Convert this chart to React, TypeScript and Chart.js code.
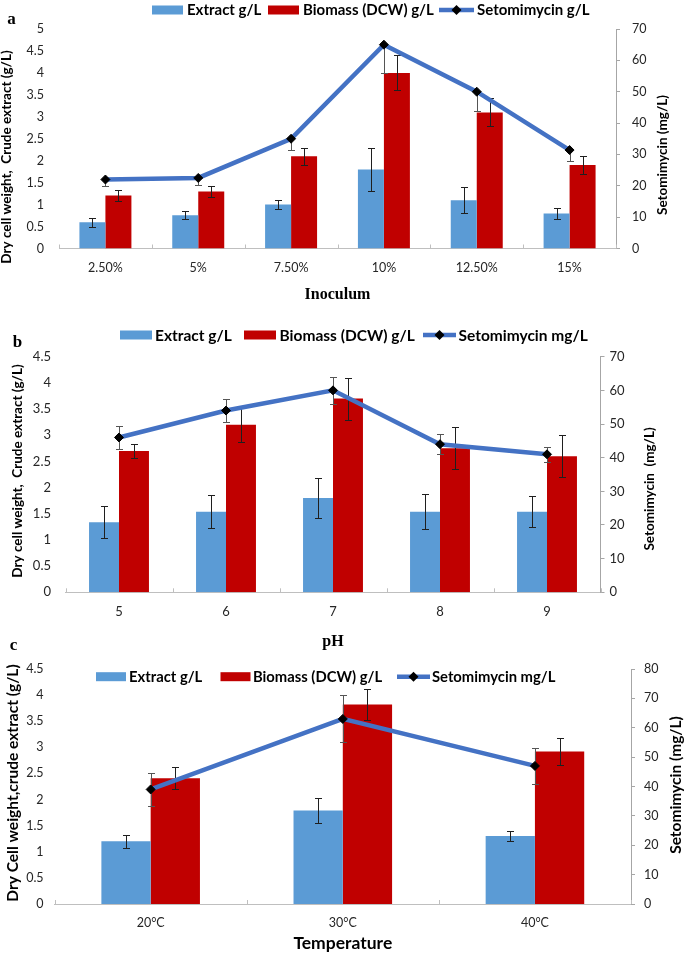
import React, { useEffect, useRef } from 'react';
import { Chart, registerables } from 'chart.js';
Chart.register(...registerables);

// ---------- Panel a : Inoculum ----------
const inoculumLabels = ['2.50%', '5%', '7.50%', '10%', '12.50%', '15%'];
const inoculumExtract = [0.6, 0.76, 1.0, 1.8, 1.1, 0.8];
const inoculumExtractErr = [0.1, 0.09, 0.11, 0.5, 0.3, 0.13];
const inoculumBiomass = [1.21, 1.3, 2.1, 4.0, 3.1, 1.9];
const inoculumBiomassErr = [0.12, 0.13, 0.2, 0.4, 0.32, 0.2];
const inoculumSeto = [22, 22.5, 35, 65, 50, 31.4];
const inoculumSetoErr = [2.2, 2.4, 3.5, 9, 6, 3.6];

// ---------- Panel b : pH ----------
const phLabels = ['5', '6', '7', '8', '9'];
const phExtract = [1.34, 1.54, 1.8, 1.54, 1.54];
const phExtractErr = [0.3, 0.31, 0.39, 0.34, 0.29];
const phBiomass = [2.7, 3.2, 3.7, 2.75, 2.6];
const phBiomassErr = [0.13, 0.33, 0.4, 0.4, 0.4];
const phSeto = [46, 54, 60, 44, 41];
const phSetoErr = [3.3, 3.5, 4, 3, 2.3];

// ---------- Panel c : Temperature ----------
const tempLabels = ['20°C', '30°C', '40°C'];
const tempExtract = [1.2, 1.79, 1.3];
const tempExtractErr = [0.12, 0.24, 0.1];
const tempBiomass = [2.41, 3.82, 2.92];
const tempBiomassErr = [0.21, 0.3, 0.25];
const tempSeto = [39, 63, 47];
const tempSetoErr = [5.5, 8, 6];

const SANS = 'Lato, "Open Sans", sans-serif';
const SERIF = '"Liberation Serif", "Times New Roman", serif';
const BLUE = '#5B9BD5';
const RED = '#C00000';
const LINE = '#4472C4';

const PANELS: any[] = [
  {
    top: 0, height: 318,
    labels: inoculumLabels, extract: inoculumExtract, extractErr: inoculumExtractErr,
    biomass: inoculumBiomass, biomassErr: inoculumBiomassErr, seto: inoculumSeto, setoErr: inoculumSetoErr,
    setoLabel: 'Setomimycin g/L', setoMinusOnly: true,
    yMax: 5, y1Max: 70, cp: 0.56,
    chartTop: 29, chartBottom: 248.5, chartLeft: 59, chartRight: 616, rightAxisW: 40,
    tickSize: 12.5, yPad: 15, y1Pad: 12, xPad: 12,
    xTitle: 'Inoculum', xTitleFont: { family: SERIF, size: 16, weight: 'bold' }, xTitleCenter: 295,
    yTitle: 'Dry cell weight,  Crude extract (g/L)', yTitleX: 7, yTitleY: 157,
    y1Title: 'Setomimycin (mg/L)', y1TitleX: 663, y1TitleY: 155, titleSize: 13.5,
    letter: 'a', letterX: 11.5, letterY: 20,
    legendY: 10, legendSize: 15,
    legend: [{ box: 152, w: 31, h: 9, text: 187 }, { box: 268, w: 31, h: 9, text: 303 }, { line: [439, 474], text: 477 }],
  },
  {
    top: 318, height: 334,
    labels: phLabels, extract: phExtract, extractErr: phExtractErr,
    biomass: phBiomass, biomassErr: phBiomassErr, seto: phSeto, setoErr: phSetoErr,
    setoLabel: 'Setomimycin mg/L', setoMinusOnly: false,
    yMax: 4.5, y1Max: 70, cp: 0.56,
    chartTop: 38.7, chartBottom: 274.3, chartLeft: 65.5, chartRight: 600.5, rightAxisW: 40,
    tickSize: 13, yPad: 14.5, y1Pad: 5, xPad: 12,
    xTitle: 'pH', xTitleFont: { family: SERIF, size: 16, weight: 'bold' }, xTitleCenter: 324,
    yTitle: 'Dry cell weight,  Crude extract (g/L)', yTitleX: 17.5, yTitleY: 153,
    y1Title: 'Setomimycin  (mg/L)', y1TitleX: 650, y1TitleY: 171, titleSize: 13.5,
    letter: 'b', letterX: 17.5, letterY: 25,
    legendY: 17, legendSize: 15.5,
    legend: [{ box: 120, w: 32, h: 9, text: 155 }, { box: 244, w: 32, h: 9, text: 279.5 }, { line: [423, 456], text: 458.5 }],
  },
  {
    top: 640, height: 314,
    labels: tempLabels, extract: tempExtract, extractErr: tempExtractErr,
    biomass: tempBiomass, biomassErr: tempBiomassErr, seto: tempSeto, setoErr: tempSetoErr,
    setoLabel: 'Setomimycin mg/L', setoMinusOnly: false,
    yMax: 4.5, y1Max: 80, cp: 0.513,
    chartTop: 29, chartBottom: 264, chartLeft: 54.6, chartRight: 631, rightAxisW: 40,
    tickSize: 12.5, yPad: 11, y1Pad: 9, xPad: 11,
    xTitle: 'Temperature', xTitleFont: { family: SANS, size: 17.5, weight: 'bold' }, xTitleCenter: 303,
    yTitle: 'Dry Cell weight,crude extract (g/L)', yTitleX: 13, yTitleY: 143,
    y1Title: 'Setomimycin (mg/L)', y1TitleX: 676, y1TitleY: 145, titleSize: 15.5,
    letter: 'c', letterX: 13.5, letterY: 6,
    legendY: 36.7, legendSize: 14.8,
    legend: [{ box: 96, w: 30, h: 9, text: 129 }, { box: 220.5, w: 30, h: 9, text: 253 }, { line: [397, 430], text: 432 }],
  },
];

function drawErrorBars(chart: any, index: number) {
  const ds = chart.data.datasets[index];
  if (!ds.errors) return;
  const meta = chart.getDatasetMeta(index);
  const scale = chart.scales[meta.yAxisID];
  const ctx = chart.ctx;
  ctx.save();
  ctx.strokeStyle = ds.errorColor || '#1f1f1f';
  ctx.lineWidth = 1;
  meta.data.forEach((el: any, i: number) => {
    const v = ds.data[i];
    const e = ds.errors[i];
    const x = Math.round(el.x) + 0.5;
    const yTop = Math.round(scale.getPixelForValue(ds.minusOnly ? v : v + e)) + 0.5;
    const yBot = Math.round(scale.getPixelForValue(v - e)) + 0.5;
    ctx.beginPath();
    ctx.moveTo(x, yTop); ctx.lineTo(x, yBot);
    if (!ds.minusOnly) { ctx.moveTo(x - 3.5, yTop); ctx.lineTo(x + 3.5, yTop); }
    ctx.moveTo(x - 3.5, yBot); ctx.lineTo(x + 3.5, yBot);
    ctx.stroke();
  });
  ctx.restore();
}

const decorPlugin = {
  id: 'decor',
  beforeDatasetDraw(chart: any, args: any) {
    const ds = chart.data.datasets[args.index];
    if (ds.type === 'line') drawErrorBars(chart, args.index);
  },
  afterDatasetDraw(chart: any, args: any) {
    const ds = chart.data.datasets[args.index];
    if (ds.type !== 'line') drawErrorBars(chart, args.index);
  },
  afterDraw(chart: any, _args: any, opts: any) {
    const p = opts.panel;
    if (!p) return;
    const ctx = chart.ctx;
    const area = chart.chartArea;
    ctx.save();
    // inside tick marks on category axis
    const xs = chart.scales.x;
    const n = chart.data.labels.length;
    ctx.strokeStyle = '#BFBFBF';
    ctx.lineWidth = 1;
    for (let i = 0; i <= n; i++) {
      const px = Math.round(xs.getPixelForValue(i - 0.5)) + 0.5;
      ctx.beginPath();
      ctx.moveTo(px, area.bottom);
      ctx.lineTo(px, area.bottom - 4);
      ctx.stroke();
    }
    // axis titles (rotated, reading bottom-to-top)
    ctx.fillStyle = '#000';
    ctx.textAlign = 'center';
    ctx.textBaseline = 'middle';
    ctx.font = `bold ${p.titleSize}px ${SANS}`;
    ctx.save();
    ctx.translate(p.yTitleX, p.yTitleY);
    ctx.rotate(-Math.PI / 2);
    ctx.fillText(p.yTitle, 0, 0);
    ctx.restore();
    ctx.save();
    ctx.translate(p.y1TitleX, p.y1TitleY);
    ctx.rotate(-Math.PI / 2);
    ctx.fillText(p.y1Title, 0, 0);
    ctx.restore();
    // panel letter
    ctx.font = `bold 17px ${SERIF}`;
    ctx.fillText(p.letter, p.letterX, p.letterY);
    // legend
    ctx.textAlign = 'left';
    ctx.font = `bold ${p.legendSize}px ${SANS}`;
    const y = p.legendY;
    p.legend.forEach((item: any, i: number) => {
      const ds = chart.data.datasets[i];
      if (item.line) {
        ctx.strokeStyle = ds.borderColor;
        ctx.lineWidth = ds.borderWidth;
        ctx.beginPath();
        ctx.moveTo(item.line[0], y);
        ctx.lineTo(item.line[1], y);
        ctx.stroke();
        const cx = (item.line[0] + item.line[1]) / 2;
        const r = ds.pointRadius + 0.5;
        ctx.fillStyle = '#000';
        ctx.beginPath();
        ctx.moveTo(cx - r, y); ctx.lineTo(cx, y - r); ctx.lineTo(cx + r, y); ctx.lineTo(cx, y + r);
        ctx.closePath();
        ctx.fill();
      } else {
        ctx.fillStyle = ds.backgroundColor;
        ctx.fillRect(item.box, y - item.h / 2, item.w, item.h);
      }
      ctx.fillStyle = '#000';
      ctx.fillText(ds.label, item.text, y + 0.5);
    });
    ctx.restore();
  },
};

const plainNumber = (v: any) => `${Number(v)}`;

function buildConfig(p: any): any {
  const titleLH = p.xTitleFont.size * 1.2;
  const titleBottom = p.xTitleCenter + titleLH / 2;
  const xAxisH = titleBottom - p.chartBottom;
  const tickFont = { family: SANS, size: p.tickSize };
  return {
    type: 'bar',
    data: {
      labels: p.labels,
      datasets: [
        {
          type: 'bar', label: 'Extract g/L', data: p.extract, errors: p.extractErr,
          backgroundColor: BLUE, yAxisID: 'y', order: 1,
          barPercentage: 1, categoryPercentage: p.cp,
        },
        {
          type: 'bar', label: 'Biomass (DCW) g/L', data: p.biomass, errors: p.biomassErr,
          backgroundColor: RED, yAxisID: 'y', order: 1,
          barPercentage: 1, categoryPercentage: p.cp,
        },
        {
          type: 'line', label: p.setoLabel, data: p.seto, errors: p.setoErr,
          minusOnly: p.setoMinusOnly, errorColor: '#555555',
          yAxisID: 'y1', order: 0,
          borderColor: LINE, borderWidth: 4.5, tension: 0, fill: false,
          pointStyle: 'rectRot', pointRadius: 4.5, pointBackgroundColor: '#000',
          pointBorderColor: '#000', pointBorderWidth: 1,
        },
      ],
    },
    options: {
      responsive: false,
      animation: false,
      events: [],
      layout: {
        padding: {
          top: p.chartTop,
          left: 0,
          right: 685 - p.chartRight - p.rightAxisW,
          bottom: p.height - titleBottom,
        },
      },
      plugins: {
        legend: { display: false },
        tooltip: { enabled: false },
        decor: { panel: p },
      },
      scales: {
        x: {
          offset: true,
          grid: { display: false, drawTicks: false },
          border: { display: true, color: '#BFBFBF', width: 1 },
          ticks: { font: tickFont, color: '#262626', padding: p.xPad, autoSkip: false, maxRotation: 0 },
          title: { display: true, text: p.xTitle, font: p.xTitleFont, color: '#000', padding: { top: 0, bottom: 0 } },
          afterFit: (s: any) => { s.height = xAxisH; },
        },
        y: {
          position: 'left',
          min: 0, max: p.yMax,
          grid: { display: false, drawTicks: false },
          border: { display: false },
          ticks: { stepSize: 0.5, font: tickFont, color: '#262626', padding: p.yPad, callback: plainNumber },
          afterFit: (s: any) => { s.width = p.chartLeft; },
        },
        y1: {
          position: 'right',
          min: 0, max: p.y1Max,
          grid: { display: true, drawOnChartArea: false, drawTicks: true, tickLength: 4, color: '#A6A6A6' },
          border: { display: true, color: '#A6A6A6', width: 1 },
          ticks: { stepSize: 10, font: tickFont, color: '#262626', padding: p.y1Pad, callback: plainNumber },
          afterFit: (s: any) => { s.width = p.rightAxisW; },
        },
      },
    },
    plugins: [decorPlugin],
  };
}

export default function App() {
  const refA = useRef<HTMLCanvasElement>(null);
  const refB = useRef<HTMLCanvasElement>(null);
  const refC = useRef<HTMLCanvasElement>(null);
  const refs = [refA, refB, refC];

  useEffect(() => {
    const charts = PANELS.map((p, i) => new Chart(refs[i].current as HTMLCanvasElement, buildConfig(p)));
    return () => charts.forEach((c) => c.destroy());
  }, []);

  return (
    <div style={{ position: 'absolute', left: 0, top: 0, width: 685, height: 954, background: '#fff' }}>
      {PANELS.map((p, i) => (
        <canvas
          key={i}
          ref={refs[i]}
          width={685}
          height={p.height}
          style={{ position: 'absolute', left: 0, top: p.top, width: 685, height: p.height }}
        />
      ))}
    </div>
  );
}
